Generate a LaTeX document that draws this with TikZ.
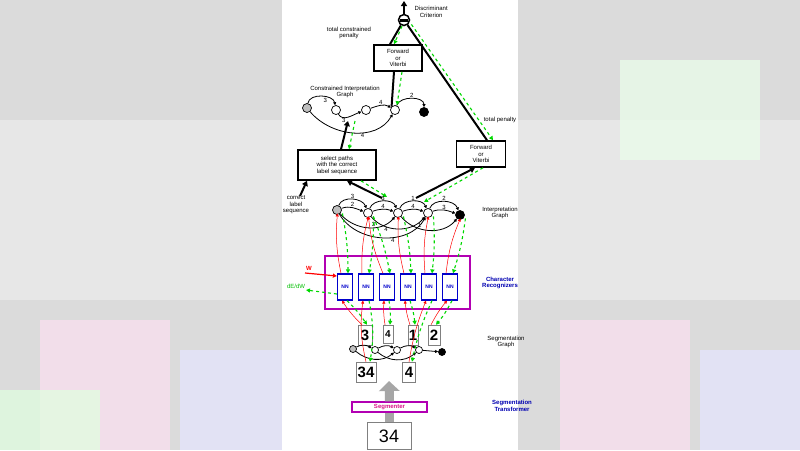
\documentclass[tikz,border=0pt]{standalone}
\usepackage{fontspec}
\setmainfont{Liberation Sans}
\usetikzlibrary{arrows.meta}
\begin{document}
\begin{tikzpicture}[x=1pt,y=-1pt,
  lbl/.style={font=\fontsize{6}{6.5}\selectfont,align=center,inner sep=0.5pt},
  blbl/.style={font=\bfseries\fontsize{6}{6.5}\selectfont,align=center,text=blue!70!black,inner sep=0.5pt},
  bigbox/.style={draw,line width=1.6pt,fill=white,align=center,font=\fontsize{6}{6.5}\selectfont,inner sep=1pt},
  nd/.style={circle,draw,line width=0.7pt,fill=white,minimum size=9pt,inner sep=0pt},
  thick arr/.style={line width=2pt,-{Triangle[length=5pt,width=6pt]}},
  gb/.style={green!85!black,dashed,line width=1.1pt,-{Triangle[length=4pt,width=4pt]}},
  rd/.style={red,line width=0.5pt,-{Triangle[length=3pt,width=3pt]}},
  ed/.style={line width=0.8pt,-{Triangle[length=3pt,width=3pt]}},
  nn/.style={draw=blue!80!black,line width=1.2pt,fill=white,minimum width=15pt,minimum height=26pt,inner sep=0pt,font=\bfseries\fontsize{5}{5}\selectfont,text=blue!80!black},
  img/.style={draw=gray,fill=white,inner sep=0.5pt,font=\bfseries\fontsize{15}{15}\selectfont}]
\useasboundingbox (0,0) rectangle (800,450);
% blurred background
\fill[gray!28] (0,0) rectangle (282,450);
\fill[gray!28] (518,0) rectangle (800,450);
\fill[white,opacity=0.35] (0,120) rectangle (282,300);
\fill[white,opacity=0.35] (518,120) rectangle (800,300);
\fill[magenta!12,opacity=0.7] (40,320) rectangle (170,450);
\fill[green!12,opacity=0.7] (0,390) rectangle (100,450);
\fill[blue!10,opacity=0.7] (180,350) rectangle (282,450);
\fill[magenta!12,opacity=0.7] (560,320) rectangle (690,450);
\fill[blue!10,opacity=0.7] (700,350) rectangle (800,450);
\fill[green!8,opacity=0.7] (620,60) rectangle (760,160);
\fill[white] (282,0) rectangle (518,450);
% top
\node[circle,draw,line width=1.5pt,minimum size=11pt,inner sep=0pt,fill=white] (crit) at (404,20) {};
\fill (400,18.5) rectangle (408,21.5);
\coordinate (top) at (404,1);
\draw[thick arr] (crit) -- (top);
\node[lbl,anchor=west] (dc) at (414,12) {Discriminant\\Criterion};
\node[bigbox,minimum width=48pt,minimum height=26pt] (fv1) at (398,58) {Forward\\or\\Viterbi};
\node[bigbox,minimum width=49pt,minimum height=26pt] (fv2) at (481,154) {Forward\\or\\Viterbi};
\node[lbl] (tcp) at (349,33) {total constrained\\penalty};
\node[lbl] (tp) at (500,120) {total penalty};
\draw[line width=2pt] (fv1.north) ++(-8,0) -- (crit);
\draw[line width=2pt] (crit) -- ([xshift=6pt]fv2.north);
\draw[gb] ([xshift=-2pt]crit.south) -- ([xshift=-4pt]fv1.north);
\draw[gb] ([xshift=3pt]crit.south east) -- ([xshift=12pt]fv2.north);
% constrained graph
\node[lbl] (cig) at (345,92) {Constrained Interpretation\\Graph};
\node[nd,fill=gray!50] (c0) at (307,108) {};
\node[nd] (c1) at (336,110) {};
\node[nd] (c2) at (366,110) {};
\node[nd] (c3) at (395,110) {};
\node[nd,fill=black] (c4) at (424,112) {};
\draw[ed] (c0) to[out=80,in=100] node[lbl,pos=0.6,below] {3} (c1);
\draw[ed] (c1) to[out=-60,in=-160] node[lbl,pos=0.3,below] {3} (c2);
\draw[ed] (c2) to[out=20,in=150] node[lbl,above] {4} (c3);
\draw[ed] (c0) to[out=-50,in=-120] node[lbl,pos=0.6,below] {4} (c3);
\draw[ed] (c3) to[out=70,in=90] node[lbl,pos=0.5,above] {2} (c4);
\draw[line width=2pt] ([xshift=-4pt]fv1.south) -- (c3.north west);
\draw[gb] ([xshift=4pt]fv1.south) -- ([xshift=2pt]c3.north);
% select paths
\node[bigbox,minimum width=78pt,minimum height=30pt] (sel) at (337,165) {select paths\\with the correct\\label sequence};
\draw[thick arr] ([xshift=4pt]sel.north) -- (348,121);
\draw[gb] (355,121) -- ([xshift=12pt]sel.north);
\node[lbl] (cls) at (296,205) {correct\\label\\sequence};
\draw[thick arr] (300,196) -- ([xshift=-30pt]sel.south);
% interpretation graph
\node[lbl] (ig) at (500,213) {Interpretation\\Graph};
\node[nd,fill=gray!50] (i0) at (337,210) {};
\node[nd] (i1) at (368,213) {};
\node[nd] (i2) at (398,213) {};
\node[nd] (i3) at (428,213) {};
\node[nd,fill=black] (i4) at (460,215) {};
\draw[thick arr] (382,198) -- ([xshift=10pt]sel.south);
\draw[gb] ([xshift=24pt]sel.south) -- (387,197);
\draw[thick arr] (416,198) -- ([xshift=-6pt]fv2.south);
\draw[gb] ([xshift=2pt]fv2.south) -- (424,202);
\draw[ed] (i0) to[out=70,in=110] node[lbl,above] {3} (i1);
\draw[ed] (i0) to[out=20,in=160] node[lbl,above] {2} (i1);
\draw[ed] (i1) to[out=70,in=110] node[lbl,above] {3} (i2);
\draw[ed] (i1) to[out=20,in=160] node[lbl,above] {4} (i2);
\draw[ed] (i2) to[out=70,in=110] node[lbl,above] {1} (i3);
\draw[ed] (i2) to[out=20,in=160] node[lbl,above] {4} (i3);
\draw[ed] (i3) to[out=70,in=110] node[lbl,above] {2} (i4);
\draw[ed] (i3) to[out=20,in=160] node[lbl,above] {3} (i4);
\draw[ed] (i0) to[out=-50,in=-130] node[lbl,pos=0.6,above] {3} (i2);
\draw[ed] (i1) to[out=-50,in=-130] node[lbl,pos=0.3,below] {4} (i3);
\draw[ed] (i2) to[out=-50,in=-130] node[lbl,pos=0.35,above] {1} (i4);
\draw[ed] (i0) to[out=-60,in=-120] node[lbl,pos=0.6,below] {4} (i3);
% character recognizers
\node[draw=violet!60!magenta,line width=1.3pt,minimum width=145pt,minimum height=53pt] (cr) at (397.5,282.5) {};
\node[blbl] (crl) at (500,283) {Character\\Recognizers};
\foreach \i/\x in {1/345,2/366,3/387,4/408,5/429,6/450}{
  \node[nn] (n\i) at (\x,287) {NN};
}
\coordinate (w0) at (305,273);
\draw[red,line width=1.2pt,-{Triangle[length=4pt,width=4pt]}] (w0) -- (n1.west |- 276,276);
\node[lbl,text=red,font=\bfseries\fontsize{6}{6}\selectfont] (wl) at (309,268) {W};
\coordinate (d0) at (306,290);
\draw[gb] (n1.west |- 294,294) -- (d0);
\node[lbl,text=green!75!black] (dl) at (296,286) {dE/dW};
% NN <-> interpretation graph
\foreach \i/\t in {1/i0,2/i1,3/i1,4/i2,5/i3,6/i4}{
  \draw[rd] ([xshift=-4pt]n\i.north) to[bend left=8] ([xshift=-3pt]\t.south east);
  \draw[gb] ([xshift=2pt]\t.south east) to[bend left=5] ([xshift=3pt]n\i.north);
}
% segmentation graph
\node[lbl] (sgl) at (506,342) {Segmentation\\Graph};
\node[img,minimum width=14pt,minimum height=20pt] (s3) at (365,335) {3};
\node[img,minimum width=10pt,minimum height=18pt] (s4) at (388,334) {\fontsize{10}{10}\selectfont 4};
\node[img,minimum width=10pt,minimum height=20pt] (s1) at (413,335) {1};
\node[img,minimum width=12pt,minimum height=20pt] (s2) at (434,335) {2};
\node[nd,fill=gray!50,minimum size=7pt] (g0) at (353,349) {};
\node[nd,minimum size=7pt] (g1) at (375,350) {};
\node[nd,minimum size=7pt] (g2) at (397,350) {};
\node[nd,minimum size=7pt] (g3) at (419,350) {};
\node[nd,fill=black,minimum size=7pt] (g4) at (442,352) {};
\draw[ed] (g0) to[out=30,in=150] (g1);
\draw[ed] (g1) to[out=30,in=150] (g2);
\draw[ed] (g2) to[out=30,in=150] (g3);
\draw[ed] (g3) -- (g4);
\draw[ed] (g0) to[out=-40,in=-140] (g2);
\draw[ed] (g1) to[out=-40,in=-140] (g3);
\node[img,minimum width=20pt,minimum height=20pt] (s34) at (366,372) {34};
\node[img,minimum width=13pt,minimum height=20pt] (s44) at (409,372) {4};
\foreach \s/\i in {s3/1,s4/3,s1/4,s2/6}{
  \draw[rd] ([xshift=-3pt]\s.north) to[bend left=6] ([xshift=-3pt]n\i.south);
  \draw[gb] ([xshift=2pt]n\i.south) to[bend left=6] ([xshift=2pt]\s.north);
}
\draw[rd] (s34.north) to[bend left=10] ([xshift=-3pt]n2.south);
\draw[gb] ([xshift=3pt]n2.south) to[bend left=10] ([xshift=4pt]s34.north);
\draw[rd] (s44.north) to[bend left=6] ([xshift=-3pt]n5.south);
\draw[gb] ([xshift=3pt]n5.south) to[bend right=6] ([xshift=3pt]s44.north);
% segmenter
\node[img,minimum width=44pt,minimum height=27pt,font=\fontsize{18}{18}\selectfont] (in34) at (389,436) {34};
\draw[gray!70,line width=9pt,-{Triangle[length=7pt,width=20pt]}] (in34.north) -- (389,400);
\node[draw=violet!60!magenta,line width=1.3pt,fill=white,minimum width=75pt,minimum height=10pt,inner sep=0pt,font=\bfseries\fontsize{6}{6}\selectfont,text=magenta!80!violet] (seg) at (389.5,407) {Segmenter};
\node[blbl] (stl) at (512,406) {Segmentation\\Transformer};
\draw[gray!70,line width=9pt,-{Triangle[length=10pt,width=20pt]}] (seg.north) -- (389,381);
\end{tikzpicture}
\end{document}
